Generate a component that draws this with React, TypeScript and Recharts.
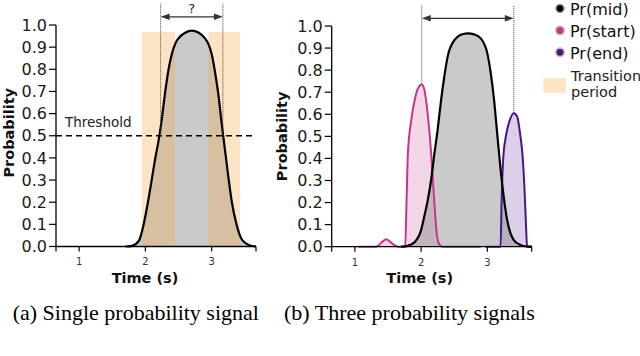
import React from "react";
import {
  Area,
  ComposedChart,
  Line,
  ReferenceArea,
  ReferenceLine,
  XAxis,
  YAxis,
} from "recharts";

const timeDomain = [0.65, 3.67];
const timeTicks = [0.65, 1, 2, 3, 3.67];
const probTicks = [0, 0.1, 0.2, 0.3, 0.4, 0.5, 0.6, 0.7, 0.8, 0.9, 1.0];

// (a) single probability signal
const singleTimes = [1.7, 1.8, 1.9, 1.97, 2.05, 2.1, 2.15, 2.2, 2.25, 2.3, 2.35, 2.4, 2.45, 2.5, 2.6, 2.7, 2.8, 2.9, 2.95, 3.0, 3.05, 3.1, 3.15, 3.2, 3.25, 3.3, 3.38, 3.45, 3.5, 3.57, 3.67];
const singleValues = [0, 0.003, 0.025, 0.095, 0.22, 0.31, 0.4, 0.48, 0.58, 0.7, 0.8, 0.87, 0.915, 0.94, 0.965, 0.975, 0.966, 0.94, 0.915, 0.87, 0.79, 0.69, 0.56, 0.44, 0.32, 0.21, 0.095, 0.035, 0.018, 0.006, 0];
const transitionBands = [[1.945, 2.447], [2.95, 3.43]];
const bandTop = 0.968;
const threshold = 0.5;
const thresholdCrossings = [2.23, 3.17];

// (b) three probability signals
const midTimes = [1.7, 1.8, 1.9, 2.0, 2.05, 2.1, 2.15, 2.2, 2.25, 2.3, 2.35, 2.4, 2.5, 2.6, 2.7, 2.8, 2.9, 3.0, 3.05, 3.1, 3.15, 3.2, 3.25, 3.3, 3.35, 3.4, 3.5, 3.6, 3.675];
const midValues = [0, 0.004, 0.02, 0.075, 0.14, 0.21, 0.3, 0.42, 0.53, 0.66, 0.77, 0.86, 0.935, 0.96, 0.967, 0.962, 0.944, 0.876, 0.79, 0.67, 0.51, 0.35, 0.22, 0.12, 0.06, 0.03, 0.008, 0.001, 0];
const startTimes = [1.05, 1.32, 1.4, 1.475, 1.56, 1.65, 1.76, 1.78, 1.8, 1.85, 1.9, 1.95, 2.01, 2.05, 2.1, 2.15, 2.2, 2.24, 2.28, 2.32, 2.9];
const startValues = [0, 0, 0.018, 0.034, 0.015, 0, 0, 0.2, 0.42, 0.57, 0.66, 0.715, 0.735, 0.71, 0.6, 0.43, 0.2, 0.05, 0.008, 0, 0];
const endTimes = [2.975, 3.2, 3.215, 3.24, 3.28, 3.33, 3.4, 3.45, 3.5, 3.53, 3.56, 3.585, 3.6, 3.675];
const endValues = [0, 0, 0.2, 0.4, 0.5, 0.565, 0.605, 0.59, 0.5, 0.42, 0.27, 0.09, 0, 0];
const peakMarks = [
  { t: 2.01, p: 0.735 },
  { t: 3.4, p: 0.605 },
];

const legendItems = [
  { name: "Pr(mid)", color: "#000000" },
  { name: "Pr(start)", color: "#c4378b" },
  { name: "Pr(end)", color: "#4b1488" },
];

const FONT = "DejaVu Sans";
const ORANGE = "#f7a43a";
const PINK = "#c4378b";
const PURPLE = "#4b1488";

function mergeSeries(entries: [string, number[], number[]][]) {
  const rows = new Map<number, Record<string, number>>();
  for (const [key, ts, vs] of entries) {
    ts.forEach((t, i) => {
      const row = rows.get(t) ?? { t };
      row[key] = vs[i];
      rows.set(t, row);
    });
  }
  return [...rows.values()].sort((a, b) => a.t - b.t);
}

const singleData = mergeSeries([["p", singleTimes, singleValues]]);
const threeData = mergeSeries([
  ["mid", midTimes, midValues],
  ["start", startTimes, startValues],
  ["end", endTimes, endValues],
]);

const DoubleArrow = (props: any) => {
  const { x1, x2, y1 } = props;
  const h = 9;
  const w = 3.2;
  return (
    <g>
      <line x1={x1 + h - 1} x2={x2 - h + 1} y1={y1} y2={y1} stroke="#333" strokeWidth={1.3} />
      <polygon points={`${x1},${y1} ${x1 + h},${y1 - w} ${x1 + h},${y1 + w}`} fill="#333" />
      <polygon points={`${x2},${y1} ${x2 - h},${y1 - w} ${x2 - h},${y1 + w}`} fill="#333" />
    </g>
  );
};

const xLabel = (shift: number) => (props: any) => {
  const { x, y, width } = props.viewBox;
  return (
    <text x={x + width / 2 + shift} y={y + 36} textAnchor="middle" fontFamily={FONT} fontWeight="bold" fontSize={14.5} fill="#111">
      Time (s)
    </text>
  );
};

const yLabel = (dx: number, cyShift: number) => (props: any) => {
  const { x, y, height } = props.viewBox;
  const cx = x + dx;
  const cy = y + height / 2 + cyShift;
  return (
    <text x={cx} y={cy} transform={`rotate(-90 ${cx} ${cy})`} textAnchor="middle" dominantBaseline="central" fontFamily={FONT} fontWeight="bold" fontSize={14.5} fill="#111">
      Probability
    </text>
  );
};

const axisLine = { stroke: "#000", strokeWidth: 1.3 };

export default function App() {
  return (
    <div style={{ position: "absolute", left: 0, top: 0, width: 640, height: 356, background: "#fff", overflow: "hidden" }}>
      <div style={{ position: "absolute", left: 0, top: 0 }}>
        <ComposedChart width={300} height={300} data={singleData} margin={{ top: 25, right: 44, bottom: 13.5, left: 0 }}>
          <XAxis
            type="number"
            dataKey="t"
            domain={timeDomain}
            ticks={timeTicks}
            interval={0}
            allowDataOverflow
            height={40}
            tickSize={5}
            tickMargin={6.8}
            axisLine={axisLine}
            tickLine={{ stroke: "#000", strokeWidth: 1.2 }}
            tick={{ fontSize: 10, fill: "#333", fontFamily: FONT }}
            tickFormatter={(v: number) => (Number.isInteger(v) ? String(v) : "")}
            label={{ content: xLabel(-11) }}
          />
          <YAxis
            type="number"
            domain={[0, 1]}
            ticks={probTicks}
            interval={0}
            width={56}
            tickSize={7}
            tickMargin={2}
            axisLine={axisLine}
            tickLine={{ stroke: "#000", strokeWidth: 1.2 }}
            tick={{ fontSize: 16, fill: "#1a1a1a", fontFamily: FONT }}
            tickFormatter={(v: number) => v.toFixed(1)}
            label={{ content: yLabel(9, -3) }}
          />
          <Area type="monotone" dataKey="p" stroke="none" fill="#808080" fillOpacity={0.42} isAnimationActive={false} />
          <Line type="monotone" dataKey="p" stroke="#000" strokeWidth={2.2} dot={false} isAnimationActive={false} />
          {transitionBands.map(([a, b]) => (
            <ReferenceArea key={a} x1={a} x2={b} y1={0} y2={bandTop} fill={ORANGE} fillOpacity={0.3} stroke="none" ifOverflow="visible" />
          ))}
          <ReferenceLine
            y={threshold}
            stroke="#000"
            strokeWidth={1.4}
            strokeDasharray="6 4"
            label={{
              content: (p: any) => (
                <text x={p.viewBox.x + 9} y={p.viewBox.y - 9} fontFamily={FONT} fontSize={13.5} fill="#222">
                  Threshold
                </text>
              ),
            }}
          />
          {thresholdCrossings.map((t) => (
            <ReferenceLine
              key={t}
              segment={[{ x: t, y: threshold }, { x: t, y: 1.098 }]}
              stroke="#444"
              strokeWidth={1}
              strokeDasharray="1 1"
              ifOverflow="visible"
            />
          ))}
          <ReferenceLine
            segment={[{ x: thresholdCrossings[0], y: 1.037 }, { x: thresholdCrossings[1], y: 1.037 }]}
            ifOverflow="visible"
            shape={DoubleArrow}
            label={{ value: "?", position: "top", offset: 4, fontSize: 13, fill: "#222", fontFamily: FONT }}
          />
        </ComposedChart>
      </div>

      <div style={{ position: "absolute", left: 260, top: 0 }}>
        <ComposedChart width={280} height={300} data={threeData} margin={{ top: 26, right: 8.3, bottom: 13.3, left: 0 }}>
          <XAxis
            type="number"
            dataKey="t"
            domain={timeDomain}
            ticks={timeTicks}
            interval={0}
            allowDataOverflow
            height={40}
            tickSize={5}
            tickMargin={6.8}
            axisLine={axisLine}
            tickLine={{ stroke: "#000", strokeWidth: 1.2 }}
            tick={{ fontSize: 10, fill: "#333", fontFamily: FONT }}
            tickFormatter={(v: number) => (Number.isInteger(v) ? String(v) : "")}
            label={{ content: xLabel(-12) }}
          />
          <YAxis
            type="number"
            domain={[0, 1]}
            ticks={probTicks}
            interval={0}
            width={71.7}
            tickSize={7}
            tickMargin={2}
            axisLine={axisLine}
            tickLine={{ stroke: "#000", strokeWidth: 1.2 }}
            tick={{ fontSize: 16, fill: "#1a1a1a", fontFamily: FONT }}
            tickFormatter={(v: number) => v.toFixed(1)}
            label={{ content: yLabel(22.5, 0) }}
          />
          <Area type="monotone" dataKey="start" connectNulls stroke="none" fill={PINK} fillOpacity={0.2} isAnimationActive={false} />
          <Area type="monotone" dataKey="end" connectNulls stroke="none" fill={PURPLE} fillOpacity={0.2} isAnimationActive={false} />
          <Area type="monotone" dataKey="mid" connectNulls stroke="none" fill="#808080" fillOpacity={0.42} isAnimationActive={false} />
          <Line type="monotone" dataKey="start" connectNulls stroke={PINK} strokeWidth={2} dot={false} isAnimationActive={false} />
          <Line type="monotone" dataKey="end" connectNulls stroke={PURPLE} strokeWidth={2} dot={false} isAnimationActive={false} />
          <Line type="monotone" dataKey="mid" connectNulls stroke="#000" strokeWidth={2.2} dot={false} isAnimationActive={false} />
          {peakMarks.map((m) => (
            <ReferenceLine
              key={m.t}
              segment={[{ x: m.t, y: m.p }, { x: m.t, y: 1.095 }]}
              stroke="#444"
              strokeWidth={1}
              strokeDasharray="1 1"
              ifOverflow="visible"
            />
          ))}
          <ReferenceLine
            segment={[{ x: peakMarks[0].t, y: 1.035 }, { x: peakMarks[1].t, y: 1.035 }]}
            ifOverflow="visible"
            shape={DoubleArrow}
          />
        </ComposedChart>
      </div>

      <svg style={{ position: "absolute", left: 530, top: 0 }} width={110} height={110}>
        {legendItems.map((item, i) => (
          <g key={item.name}>
            <circle cx={30} cy={8.5 + i * 21.9} r={4.2} fill={item.color} stroke="#bbb" strokeWidth={1.6} />
            <text x={40} y={14.8 + i * 21.9} fontFamily={FONT} fontSize={16} fill="#111">
              {item.name}
            </text>
          </g>
        ))}
        <rect x={13.3} y={78.3} width={22.7} height={14.4} fill={ORANGE} fillOpacity={0.3} />
        <text x={41} y={81.4} fontFamily={FONT} fontSize={14.5} fill="#222">
          Transition
        </text>
        <text x={41} y={97} fontFamily={FONT} fontSize={14.5} fill="#222">
          period
        </text>
      </svg>

      <div style={{ position: "absolute", left: 12.7, top: 301, fontFamily: "Liberation Serif", fontSize: 22, lineHeight: "24px", color: "#000", whiteSpace: "nowrap" }}>
        (a) Single probability signal
      </div>
      <div style={{ position: "absolute", left: 284, top: 301, fontFamily: "Liberation Serif", fontSize: 22, lineHeight: "24px", color: "#000", whiteSpace: "nowrap" }}>
        (b) Three probability signals
      </div>
    </div>
  );
}
